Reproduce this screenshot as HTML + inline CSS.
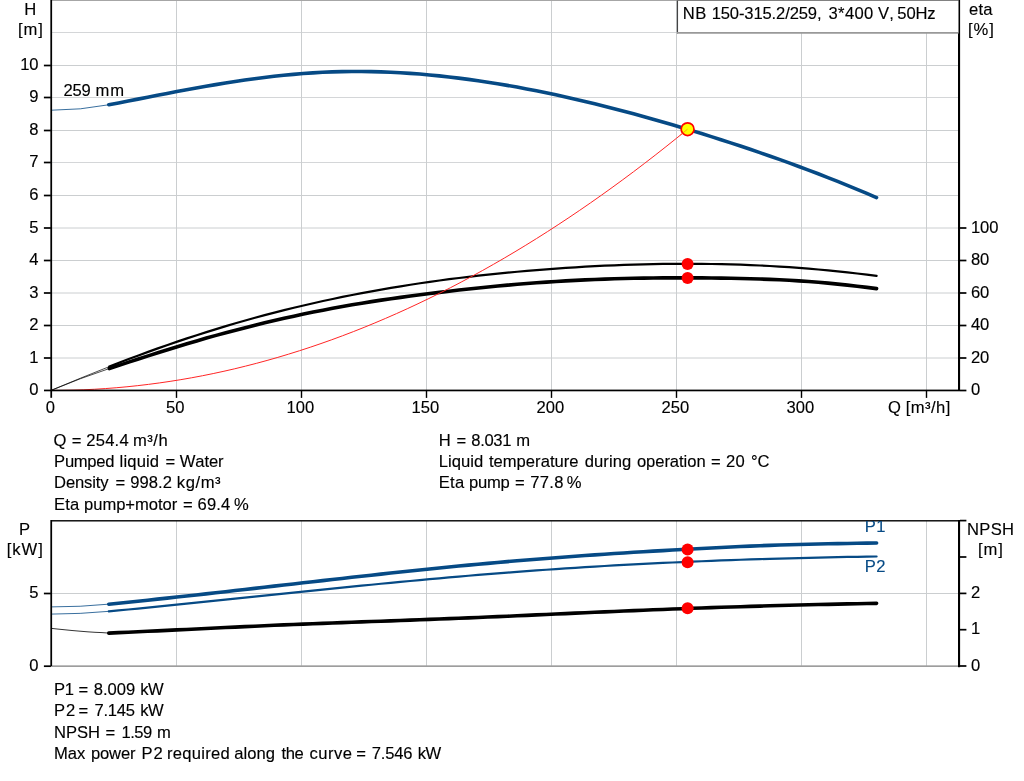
<!DOCTYPE html>
<html lang="en"><head><meta charset="utf-8"><title>Pump curve</title>
<style>html,body{margin:0;padding:0;background:#fff}body{width:1024px;height:781px;overflow:hidden}svg{display:block}text{font-family:"Liberation Sans",sans-serif;font-size:16.6px;fill:#000;font-kerning:none;white-space:pre;stroke:#000;stroke-width:0.14px}</style></head><body>
<svg width="1024" height="781" viewBox="0 0 1024 781">
<rect width="1024" height="781" fill="#fff"/>
<g stroke="#cbced0" stroke-width="1" fill="none">
<line x1="52" x2="958" y1="358.0" y2="358.0" stroke="#cbced0"/>
<line x1="52" x2="958" y1="325.5" y2="325.5" stroke="#cbced0"/>
<line x1="52" x2="958" y1="293.0" y2="293.0" stroke="#cbced0"/>
<line x1="52" x2="958" y1="260.5" y2="260.5" stroke="#cbced0"/>
<line x1="52" x2="958" y1="228.0" y2="228.0" stroke="#cbced0"/>
<line x1="52" x2="958" y1="195.5" y2="195.5" stroke="#cbced0"/>
<line x1="52" x2="958" y1="162.5" y2="162.5" stroke="#d4d6d8"/>
<line x1="52" x2="958" y1="130.5" y2="130.5" stroke="#cbced0"/>
<line x1="52" x2="958" y1="97.5" y2="97.5" stroke="#d4d6d8"/>
<line x1="52" x2="958" y1="65.5" y2="65.5" stroke="#cbced0"/>
<line x1="52" x2="958" y1="32.5" y2="32.5" stroke="#d4d6d8"/>
<line x1="176.5" x2="176.5" y1="1" y2="390"/>
<line x1="301.5" x2="301.5" y1="1" y2="390"/>
<line x1="426.5" x2="426.5" y1="1" y2="390"/>
<line x1="551.5" x2="551.5" y1="1" y2="390"/>
<line x1="676.5" x2="676.5" y1="1" y2="390"/>
<line x1="801.5" x2="801.5" y1="1" y2="390"/>
<line x1="926.5" x2="926.5" y1="1" y2="390"/>
<line x1="52" x2="958" y1="593.5" y2="593.5" stroke="#cbced0"/>
<line x1="176.5" x2="176.5" y1="521" y2="665.6"/>
<line x1="301.5" x2="301.5" y1="521" y2="665.6"/>
<line x1="426.5" x2="426.5" y1="521" y2="665.6"/>
<line x1="551.5" x2="551.5" y1="521" y2="665.6"/>
<line x1="676.5" x2="676.5" y1="521" y2="665.6"/>
<line x1="801.5" x2="801.5" y1="521" y2="665.6"/>
<line x1="926.5" x2="926.5" y1="521" y2="665.6"/>
</g>
<line x1="52" x2="958.5" y1="666.2" y2="666.2" stroke="#7d7d7d" stroke-width="1.2"/>
<line x1="52" x2="958.5" y1="0.4" y2="0.4" stroke="#9c9c9c" stroke-width="1"/>
<g fill="none" stroke-linecap="round" stroke-linejoin="round">
<path d="M51.50 390.20 Q80.40 378.05 109.30 366.62" stroke="#000" stroke-width="0.7"/>
<path d="M51.50 390.20 Q80.40 378.03 109.30 368.53" stroke="#000" stroke-width="0.7"/>
<path d="M109.30 366.62 L119.01 362.82 L128.73 359.09 L138.44 355.44 L148.15 351.87 L157.86 348.38 L167.58 344.97 L177.29 341.64 L187.00 338.38 L196.71 335.20 L206.43 332.10 L216.14 329.08 L225.85 326.14 L235.56 323.28 L245.28 320.50 L254.99 317.80 L264.70 315.17 L274.42 312.63 L284.13 310.16 L293.84 307.77 L303.55 305.46 L313.27 303.22 L322.98 301.05 L332.69 298.96 L342.40 296.94 L352.12 294.99 L361.83 293.11 L371.54 291.31 L381.25 289.57 L390.97 287.90 L400.68 286.29 L410.39 284.75 L420.11 283.27 L429.82 281.86 L439.53 280.50 L449.24 279.21 L458.96 277.97 L468.67 276.80 L478.38 275.68 L488.09 274.61 L497.81 273.60 L507.52 272.64 L517.23 271.73 L526.94 270.87 L536.66 270.06 L546.37 269.30 L556.08 268.58 L565.79 267.91 L575.51 267.29 L585.22 266.71 L594.93 266.19 L604.65 265.71 L614.36 265.28 L624.07 264.91 L633.78 264.59 L643.50 264.32 L653.21 264.10 L662.92 263.94 L672.63 263.83 L682.35 263.79 L692.06 263.79 L701.77 263.86 L711.48 263.98 L721.20 264.17 L730.91 264.41 L740.62 264.72 L750.34 265.09 L760.05 265.52 L769.76 266.02 L779.47 266.58 L789.19 267.21 L798.90 267.90 L808.61 268.66 L818.32 269.49 L828.04 270.39 L837.75 271.35 L847.46 272.39 L857.17 273.50 L866.89 274.68 L876.60 275.94" stroke="#000" stroke-width="2.2"/>
<path d="M109.30 368.53 L119.01 365.34 L128.73 362.16 L138.44 359.00 L148.15 355.86 L157.86 352.77 L167.58 349.72 L177.29 346.71 L187.00 343.77 L196.71 340.90 L206.43 338.10 L216.14 335.38 L225.85 332.73 L235.56 330.16 L245.28 327.65 L254.99 325.22 L264.70 322.85 L274.42 320.56 L284.13 318.33 L293.84 316.18 L303.55 314.10 L313.27 312.09 L322.98 310.16 L332.69 308.30 L342.40 306.52 L352.12 304.82 L361.83 303.19 L371.54 301.64 L381.25 300.15 L390.97 298.73 L400.68 297.36 L410.39 296.04 L420.11 294.77 L429.82 293.54 L439.53 292.34 L449.24 291.19 L458.96 290.07 L468.67 289.00 L478.38 287.97 L488.09 286.98 L497.81 286.04 L507.52 285.15 L517.23 284.31 L526.94 283.51 L536.66 282.77 L546.37 282.09 L556.08 281.46 L565.79 280.88 L575.51 280.36 L585.22 279.90 L594.93 279.48 L604.65 279.11 L614.36 278.80 L624.07 278.53 L633.78 278.30 L643.50 278.13 L653.21 277.99 L662.92 277.90 L672.63 277.85 L682.35 277.83 L692.06 277.86 L701.77 277.92 L711.48 278.02 L721.20 278.15 L730.91 278.31 L740.62 278.51 L750.34 278.74 L760.05 279.03 L769.76 279.38 L779.47 279.79 L789.19 280.29 L798.90 280.86 L808.61 281.53 L818.32 282.30 L828.04 283.15 L837.75 284.09 L847.46 285.11 L857.17 286.20 L866.89 287.37 L876.60 288.60" stroke="#000" stroke-width="3.6"/>
<path d="M52.00 110.20 Q80.40 110.18 108.80 104.78" stroke="#064a85" stroke-width="0.8"/>
<path d="M108.80 104.78 L118.52 102.92 L128.24 101.04 L137.95 99.14 L147.67 97.23 L157.39 95.34 L167.11 93.46 L176.82 91.60 L186.54 89.78 L196.26 88.00 L205.98 86.28 L215.69 84.62 L225.41 83.03 L235.13 81.51 L244.85 80.08 L254.57 78.73 L264.28 77.48 L274.00 76.33 L283.72 75.28 L293.44 74.35 L303.15 73.54 L312.87 72.86 L322.59 72.31 L332.31 71.89 L342.03 71.62 L351.74 71.48 L361.46 71.48 L371.18 71.60 L380.90 71.85 L390.61 72.23 L400.33 72.73 L410.05 73.34 L419.77 74.07 L429.48 74.92 L439.20 75.87 L448.92 76.93 L458.64 78.10 L468.36 79.36 L478.07 80.72 L487.79 82.18 L497.51 83.73 L507.23 85.38 L516.94 87.10 L526.66 88.91 L536.38 90.81 L546.10 92.78 L555.82 94.83 L565.53 96.95 L575.25 99.15 L584.97 101.42 L594.69 103.76 L604.40 106.17 L614.12 108.64 L623.84 111.18 L633.56 113.78 L643.27 116.44 L652.99 119.16 L662.71 121.94 L672.43 124.77 L682.15 127.66 L691.86 130.60 L701.58 133.59 L711.30 136.62 L721.02 139.71 L730.73 142.85 L740.45 146.05 L750.17 149.30 L759.89 152.61 L769.61 155.98 L779.32 159.41 L789.04 162.91 L798.76 166.47 L808.48 170.10 L818.19 173.80 L827.91 177.57 L837.63 181.42 L847.35 185.34 L857.06 189.34 L866.78 193.42 L876.50 197.59" stroke="#064a85" stroke-width="3.6"/>
<path d="M51.50 390.45 L62.28 390.37 L73.06 390.15 L83.84 389.77 L94.62 389.25 L105.40 388.57 L116.18 387.75 L126.96 386.77 L137.74 385.65 L148.52 384.37 L159.30 382.95 L170.08 381.37 L180.86 379.65 L191.64 377.77 L202.42 375.75 L213.19 373.57 L223.97 371.24 L234.75 368.77 L245.53 366.14 L256.31 363.37 L267.09 360.44 L277.87 357.37 L288.65 354.14 L299.43 350.76 L310.21 347.24 L320.99 343.56 L331.77 339.74 L342.55 335.76 L353.33 331.63 L364.11 327.36 L374.89 322.93 L385.67 318.35 L396.45 313.63 L407.23 308.75 L418.01 303.73 L428.79 298.55 L439.57 293.22 L450.35 287.75 L461.13 282.12 L471.91 276.34 L482.69 270.42 L493.47 264.34 L504.25 258.11 L515.03 251.74 L525.81 245.21 L536.58 238.53 L547.36 231.70 L558.14 224.73 L568.92 217.60 L579.70 210.32 L590.48 202.90 L601.26 195.32 L612.04 187.59 L622.82 179.71 L633.60 171.69 L644.38 163.51 L655.16 155.18 L665.94 146.70 L676.72 138.08 L687.50 129.30" stroke="#ff2626" stroke-width="1"/>
</g>
<g fill="none" stroke-linecap="round" stroke-linejoin="round">
<path d="M51.50 606.90 Q80.15 607.01 108.80 604.17" stroke="#064a85" stroke-width="0.8"/>
<path d="M51.50 614.10 Q80.15 614.04 108.80 611.34" stroke="#064a85" stroke-width="0.8"/>
<path d="M51.50 628.40 L58.00 629.10 L65.00 629.80 L72.00 630.50 L80.00 631.20 L88.00 631.85 L95.00 632.30 L102.00 632.60 L108.80 633.10" stroke="#000" stroke-width="0.8"/>
<path d="M108.80 604.17 L118.52 603.20 L128.24 602.21 L137.96 601.21 L147.68 600.19 L157.39 599.16 L167.11 598.12 L176.83 597.07 L186.55 596.01 L196.27 594.93 L205.99 593.85 L215.71 592.77 L225.43 591.67 L235.15 590.57 L244.87 589.47 L254.58 588.36 L264.30 587.26 L274.02 586.15 L283.74 585.03 L293.46 583.92 L303.18 582.82 L312.90 581.71 L322.62 580.61 L332.34 579.51 L342.06 578.42 L351.77 577.33 L361.49 576.25 L371.21 575.18 L380.93 574.12 L390.65 573.07 L400.37 572.03 L410.09 571.00 L419.81 569.99 L429.53 568.99 L439.25 568.00 L448.96 567.03 L458.68 566.08 L468.40 565.15 L478.12 564.23 L487.84 563.34 L497.56 562.47 L507.28 561.61 L517.00 560.78 L526.72 559.97 L536.44 559.19 L546.15 558.42 L555.87 557.67 L565.59 556.94 L575.31 556.23 L585.03 555.54 L594.75 554.86 L604.47 554.20 L614.19 553.56 L623.91 552.93 L633.63 552.32 L643.34 551.73 L653.06 551.15 L662.78 550.58 L672.50 550.03 L682.22 549.49 L691.94 548.96 L701.66 548.44 L711.38 547.94 L721.10 547.46 L730.82 547.00 L740.53 546.55 L750.25 546.13 L759.97 545.74 L769.69 545.37 L779.41 545.04 L789.13 544.73 L798.85 544.46 L808.57 544.22 L818.29 544.00 L828.01 543.80 L837.72 543.62 L847.44 543.44 L857.16 543.27 L866.88 543.10 L876.60 542.93" stroke="#064a85" stroke-width="3.6"/>
<path d="M108.80 611.34 L118.52 610.42 L128.24 609.49 L137.96 608.55 L147.68 607.59 L157.39 606.63 L167.11 605.66 L176.83 604.68 L186.55 603.69 L196.27 602.70 L205.99 601.70 L215.71 600.70 L225.43 599.70 L235.15 598.69 L244.87 597.68 L254.58 596.67 L264.30 595.66 L274.02 594.65 L283.74 593.64 L293.46 592.63 L303.18 591.62 L312.90 590.62 L322.62 589.63 L332.34 588.63 L342.06 587.65 L351.77 586.67 L361.49 585.70 L371.21 584.74 L380.93 583.78 L390.65 582.84 L400.37 581.91 L410.09 580.98 L419.81 580.08 L429.53 579.18 L439.25 578.30 L448.96 577.43 L458.68 576.58 L468.40 575.74 L478.12 574.93 L487.84 574.13 L497.56 573.35 L507.28 572.58 L517.00 571.84 L526.72 571.12 L536.44 570.42 L546.15 569.73 L555.87 569.07 L565.59 568.42 L575.31 567.79 L585.03 567.18 L594.75 566.59 L604.47 566.02 L614.19 565.46 L623.91 564.92 L633.63 564.40 L643.34 563.90 L653.06 563.41 L662.78 562.94 L672.50 562.49 L682.22 562.05 L691.94 561.63 L701.66 561.23 L711.38 560.84 L721.10 560.47 L730.82 560.11 L740.53 559.77 L750.25 559.44 L759.97 559.13 L769.69 558.83 L779.41 558.55 L789.13 558.28 L798.85 558.03 L808.57 557.79 L818.29 557.56 L828.01 557.35 L837.72 557.15 L847.44 556.97 L857.16 556.79 L866.88 556.63 L876.60 556.49" stroke="#064a85" stroke-width="2.2"/>
<path d="M108.80 633.10 L118.52 632.66 L128.24 632.22 L137.96 631.77 L147.68 631.31 L157.39 630.85 L167.11 630.38 L176.83 629.91 L186.55 629.43 L196.27 628.96 L205.99 628.48 L215.71 628.01 L225.43 627.55 L235.15 627.08 L244.87 626.63 L254.58 626.18 L264.30 625.74 L274.02 625.32 L283.74 624.91 L293.46 624.50 L303.18 624.11 L312.90 623.73 L322.62 623.36 L332.34 622.99 L342.06 622.63 L351.77 622.27 L361.49 621.92 L371.21 621.56 L380.93 621.21 L390.65 620.86 L400.37 620.51 L410.09 620.15 L419.81 619.79 L429.53 619.42 L439.25 619.05 L448.96 618.67 L458.68 618.28 L468.40 617.88 L478.12 617.47 L487.84 617.06 L497.56 616.64 L507.28 616.21 L517.00 615.79 L526.72 615.35 L536.44 614.92 L546.15 614.48 L555.87 614.05 L565.59 613.61 L575.31 613.17 L585.03 612.74 L594.75 612.31 L604.47 611.88 L614.19 611.45 L623.91 611.04 L633.63 610.62 L643.34 610.22 L653.06 609.82 L662.78 609.43 L672.50 609.05 L682.22 608.68 L691.94 608.32 L701.66 607.97 L711.38 607.63 L721.10 607.30 L730.82 606.99 L740.53 606.68 L750.25 606.38 L759.97 606.09 L769.69 605.81 L779.41 605.54 L789.13 605.28 L798.85 605.03 L808.57 604.79 L818.29 604.55 L828.01 604.33 L837.72 604.11 L847.44 603.91 L857.16 603.71 L866.88 603.52 L876.60 603.34" stroke="#000" stroke-width="3.6"/>
</g>
<g fill="#000">
<rect x="50.35" y="0" width="1.75" height="397.8"/>
<rect x="44" y="389.6" width="916" height="1.7"/>
<rect x="958" y="0" width="2.1" height="391"/>
<rect x="43.9" y="357.15" width="7" height="1.7"/>
<rect x="43.9" y="324.65" width="7" height="1.7"/>
<rect x="43.9" y="292.15" width="7" height="1.7"/>
<rect x="43.9" y="259.65" width="7" height="1.7"/>
<rect x="43.9" y="227.15" width="7" height="1.7"/>
<rect x="43.9" y="194.65" width="7" height="1.7"/>
<rect x="43.9" y="161.65" width="7" height="1.7"/>
<rect x="43.9" y="129.65" width="7" height="1.7"/>
<rect x="43.9" y="96.65" width="7" height="1.7"/>
<rect x="43.9" y="64.65" width="7" height="1.7"/>
<rect x="960" y="389.65" width="6.4" height="1.7"/>
<rect x="960" y="357.15" width="6.4" height="1.7"/>
<rect x="960" y="324.65" width="6.4" height="1.7"/>
<rect x="960" y="292.15" width="6.4" height="1.7"/>
<rect x="960" y="259.65" width="6.4" height="1.7"/>
<rect x="960" y="227.15" width="6.4" height="1.7"/>
<rect x="175.8" y="390" width="1.4" height="7.9"/>
<rect x="300.8" y="390" width="1.4" height="7.9"/>
<rect x="425.8" y="390" width="1.4" height="7.9"/>
<rect x="550.8" y="390" width="1.4" height="7.9"/>
<rect x="675.8" y="390" width="1.4" height="7.9"/>
<rect x="800.8" y="390" width="1.4" height="7.9"/>
<rect x="925.8" y="390" width="1.4" height="7.9"/>
<rect x="50.35" y="520" width="1.75" height="146.4"/>
<rect x="51" y="520.1" width="909" height="1.4"/>
<rect x="958" y="520" width="2.1" height="147.2"/>
<rect x="43.9" y="665.35" width="7" height="1.7"/>
<rect x="43.9" y="592.65" width="7" height="1.7"/>
<rect x="960" y="665.15" width="6.4" height="1.7"/>
<rect x="960" y="628.85" width="6.4" height="1.7"/>
<rect x="960" y="592.55" width="6.4" height="1.7"/>
<rect x="960" y="556.15" width="6.4" height="1.7"/>
<rect x="960" y="519.75" width="6.4" height="1.7"/>
</g>
<rect x="677.5" y="0.5" width="281" height="32" fill="#fff" stroke="none"/>
<line x1="677.45" x2="677.45" y1="0" y2="33.5" stroke="#444" stroke-width="1.2"/>
<line x1="677" x2="958.5" y1="32.95" y2="32.95" stroke="#999" stroke-width="1.8"/>
<line x1="677" x2="958.5" y1="0.4" y2="0.4" stroke="#777" stroke-width="1"/>
<circle cx="687.6" cy="129.2" r="6.4" fill="#ffff00" stroke="#ff0000" stroke-width="1.7"/>
<line x1="680" y1="135.3" x2="687.5" y2="129.2" stroke="#ff6a00" stroke-width="0.8" opacity="0.7"/>
<circle cx="687.6" cy="264.05" r="6" fill="#ff0000"/>
<circle cx="687.6" cy="277.9" r="6" fill="#ff0000"/>
<circle cx="687.6" cy="549.6" r="6" fill="#ff0000"/>
<circle cx="687.6" cy="562.3" r="6" fill="#ff0000"/>
<circle cx="687.6" cy="608.3" r="6" fill="#ff0000"/>
<g text-anchor="middle">
<text x="50.3" y="413">0</text>
<text x="175.3" y="413">50</text>
<text x="300.3" y="413">100</text>
<text x="425.3" y="413">150</text>
<text x="550.3" y="413">200</text>
<text x="675.3" y="413">250</text>
<text x="800.3" y="413">300</text>
</g>
<g text-anchor="end">
<text x="38.6" y="395">0</text>
<text x="38.6" y="363">1</text>
<text x="38.6" y="330">2</text>
<text x="38.6" y="298">3</text>
<text x="38.6" y="265">4</text>
<text x="38.6" y="233">5</text>
<text x="38.6" y="200">6</text>
<text x="38.6" y="167">7</text>
<text x="38.6" y="135">8</text>
<text x="38.6" y="102">9</text>
<text x="38.6" y="70">10</text>
<text x="38.6" y="670.5">0</text><text x="38.6" y="598">5</text>
</g>
<text x="970.9" y="395">0</text>
<text x="970.9" y="363">20</text>
<text x="970.9" y="330">40</text>
<text x="970.9" y="298">60</text>
<text x="970.9" y="265">80</text>
<text x="970.9" y="233">100</text>
<text x="970.9" y="670.6">0</text>
<text x="970.9" y="634">1</text>
<text x="970.9" y="598">2</text>
<clipPath id="cp"><rect x="52" y="521" width="906" height="144"/></clipPath>
<g clip-path="url(#cp)"><text x="864.7" y="532" letter-spacing="0.4" style="fill:#064a85;stroke:#064a85">P1</text><text x="864.7" y="572" letter-spacing="0.4" style="fill:#064a85;stroke:#064a85">P2</text></g>
<text y="446.0"><tspan x="53.5">Q</tspan> <tspan x="71.7">=</tspan> <tspan x="86.3" letter-spacing="0.20">254.4</tspan> <tspan x="132.9" letter-spacing="0.53">m³/h</tspan></text>
<text y="467.0"><tspan x="54.1" letter-spacing="-0.28">Pumped</tspan> <tspan x="119.6" letter-spacing="0.15">liquid</tspan> <tspan x="165.4">=</tspan> <tspan x="179.8" letter-spacing="-0.11">Water</tspan></text>
<text y="488.4"><tspan x="54.1" letter-spacing="-0.14">Density</tspan> <tspan x="115.6">=</tspan> <tspan x="130.2" letter-spacing="0.04">998.2</tspan> <tspan x="176.8" letter-spacing="0.59">kg/m³</tspan></text>
<text y="510.0"><tspan x="54.1" letter-spacing="0.12">Eta</tspan> <tspan x="84.1" letter-spacing="-0.06">pump+motor</tspan> <tspan x="183.0">=</tspan> <tspan x="197.6" letter-spacing="0.11">69.4</tspan> <tspan x="234.0">%</tspan></text>
<text y="446.0"><tspan x="438.8">H</tspan> <tspan x="456.5">=</tspan> <tspan x="471.3" letter-spacing="-0.33">8.031</tspan> <tspan x="516.2">m</tspan></text>
<text y="467.0"><tspan x="438.8" letter-spacing="0.05">Liquid</tspan> <tspan x="488.9" letter-spacing="0.02">temperature</tspan> <tspan x="584.8" letter-spacing="0.06">during</tspan> <tspan x="636.9" letter-spacing="-0.06">operation</tspan> <tspan x="711.0">=</tspan> <tspan x="726.1" letter-spacing="0.22">20</tspan> <tspan x="750.9">°C</tspan></text>
<text y="488.4"><tspan x="438.8" letter-spacing="0.22">Eta</tspan> <tspan x="468.9" letter-spacing="-0.22">pump</tspan> <tspan x="515.1">=</tspan> <tspan x="530.3" letter-spacing="0.29">77.8</tspan> <tspan x="566.7">%</tspan></text>
<text y="695.0"><tspan x="53.9" letter-spacing="-0.23">P1</tspan> <tspan x="78.5">=</tspan> <tspan x="93.8" letter-spacing="-0.03">8.009</tspan> <tspan x="140.3" letter-spacing="-0.60">kW</tspan></text>
<text y="716.0"><tspan x="53.9" letter-spacing="0.99">P2</tspan> <tspan x="78.5">=</tspan> <tspan x="94.4" letter-spacing="-0.22">7.145</tspan> <tspan x="140.3" letter-spacing="-0.60">kW</tspan></text>
<text y="737.6"><tspan x="54.1" letter-spacing="-0.03">NPSH</tspan> <tspan x="105.5">=</tspan> <tspan x="121.4" letter-spacing="-0.45">1.59</tspan> <tspan x="156.9">m</tspan></text>
<text y="759.1"><tspan x="53.9" letter-spacing="0.04">Max</tspan> <tspan x="90.9" letter-spacing="-0.12">power</tspan> <tspan x="141.5" letter-spacing="0.89">P2</tspan> <tspan x="167.1" letter-spacing="0.25">required</tspan> <tspan x="234.3" letter-spacing="-0.01">along</tspan> <tspan x="281.5" letter-spacing="-0.39">the</tspan> <tspan x="309.5" letter-spacing="0.46">curve</tspan> <tspan x="356.2">=</tspan> <tspan x="371.8" letter-spacing="-0.24">7.546</tspan> <tspan x="417.8" letter-spacing="-0.60">kW</tspan></text>
<text y="19.0"><tspan x="682.8" letter-spacing="0.38">NB</tspan> <tspan x="711.7" letter-spacing="-0.14">150-315.2/259,</tspan> <tspan x="828.6" letter-spacing="0.30">3*400</tspan> <tspan x="878.1" letter-spacing="-0.02">V,</tspan> <tspan x="897.3" letter-spacing="-0.15">50Hz</tspan></text>
<text y="413.0"><tspan x="888.0">Q</tspan> <tspan x="905.7" letter-spacing="0.43">[m³/h]</tspan></text>
<text y="96.0"><tspan x="63.6" letter-spacing="-0.24">259</tspan> <tspan x="95.5" letter-spacing="0.94">mm</tspan></text>
<text y="15.0"><tspan x="24.2">H</tspan></text>
<text y="34.6"><tspan x="17.9" letter-spacing="0.91">[m]</tspan></text>
<text y="15.0"><tspan x="969.0" letter-spacing="0.16">eta</tspan></text>
<text y="34.6"><tspan x="967.9" letter-spacing="1.04">[%]</tspan></text>
<text y="534.8"><tspan x="18.9">P</tspan></text>
<text y="554.8"><tspan x="6.8" letter-spacing="0.92">[kW]</tspan></text>
<text y="534.8"><tspan x="967.0" letter-spacing="0.33">NPSH</tspan></text>
<text y="554.8"><tspan x="977.9" letter-spacing="0.91">[m]</tspan></text>
</svg></body></html>
